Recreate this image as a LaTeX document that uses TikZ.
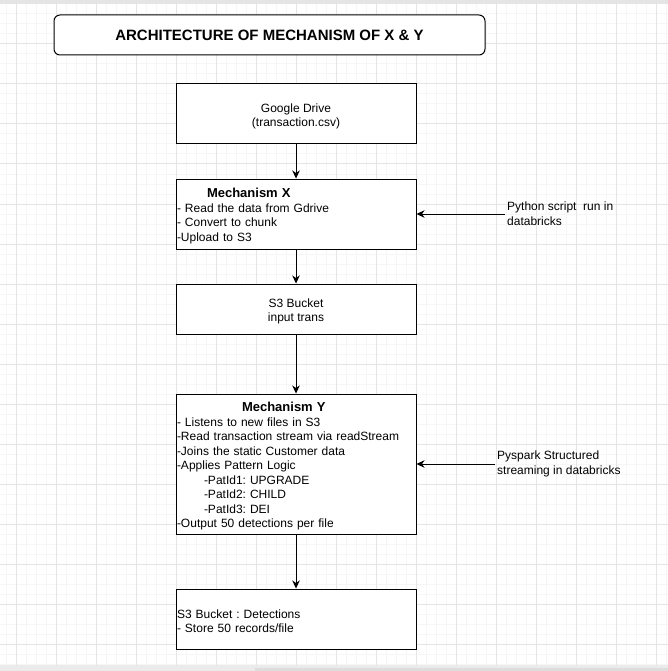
\documentclass[tikz,border=0pt]{standalone}
\usepackage{fontspec}
\setmainfont{Liberation Sans}
\usetikzlibrary{arrows.meta}
\definecolor{gridmajor}{HTML}{E5E5E5}
\definecolor{gridminor}{HTML}{F6F6F6}
\definecolor{barbg}{HTML}{EBEBEB}
\definecolor{barthumb}{HTML}{DDDDDD}
\newcommand{\toprule}{\rule{0pt}{13.5pt}}

\begin{document}
\frenchspacing
\begin{tikzpicture}[x=1pt,y=-1pt,
	box/.style={draw=black, line width=1pt, fill=white, minimum width=240pt, inner sep=1pt, font=\fontsize{12}{14.5}\selectfont},
	flow/.style={line width=1pt, -{Stealth[length=8pt,width=7.5pt,inset=2.5pt]}},
	note/.style={anchor=west, align=left, inner sep=2pt, font=\fontsize{12}{15}\selectfont}]
			\useasboundingbox (0,0) rectangle (668,671);
			\fill[white] (0,0) rectangle (668,671);
			% background grid
			\foreach \x in {6,16,...,666} \draw[gridminor, line width=1pt] (\x,4)--(\x,671);
			\foreach \y in {4,14,...,664} \draw[gridminor, line width=1pt] (0,\y)--(668,\y);
			\foreach \x in {16,56,...,656} \draw[gridmajor, line width=1pt] (\x,4)--(\x,671);
			\foreach \y in {4,44,...,644} \draw[gridmajor, line width=1pt] (0,\y)--(668,\y);
			\fill[gridmajor] (0,0) rectangle (668,3.5);
			\fill[barbg] (0,665) rectangle (668,671);
			\fill[barthumb] (255,667.5) rectangle (668,671);
			% title
			\node[draw, fill=white, rounded corners=6pt, line width=1pt, minimum width=431pt, minimum height=40pt, font=\fontsize{15}{18}\selectfont\bfseries] (title) at (269.5,35) {ARCHITECTURE OF MECHANISM OF X \& Y};
			% flow boxes
			\node[box, minimum height=60pt, align=center] (gdrive) at (296,114) {\toprule Google Drive\\(transaction.csv)};
			\node[box, minimum height=70pt, text width=238pt, align=left] (mechx) at (296,214) {\toprule\hspace*{30pt}{\fontsize{13}{14}\selectfont\bfseries Mechanism X}\\- Read the data from Gdrive\\- Convert to chunk\\-Upload to S3};
			\node[box, minimum height=50pt, align=center] (s3in) at (296,309) {\toprule S3 Bucket\\input trans};
			\node[box, minimum height=140pt, text width=238pt, align=left] (mechy) at (296,464) {\toprule\hspace*{65pt}{\fontsize{13}{14}\selectfont\bfseries Mechanism Y}\\- Listens to new files in S3\\-Read transaction stream via readStream\\-Joins the static Customer data\\-Applies Pattern Logic\\\hspace*{27pt}-PatId1: UPGRADE\\\hspace*{27pt}-PatId2: CHILD\\\hspace*{27pt}-PatId3: DEI\\-Output 50 detections per file};
			\node[box, minimum height=60pt, text width=238pt, align=left] (s3det) at (296,619) {\toprule S3 Bucket : Detections\\- Store 50 records/file};
			% side notes
			\node[note] (pyscript) at (505,214) {Python script\ \ run in\\databricks};
			\node[note] (pyspark) at (495,464) {Pyspark Structured\\streaming in databricks};
			\draw[flow] (gdrive)--(mechx);
			\draw[flow] (mechx)--(s3in);
			\draw[flow] (s3in)--(mechy);
			\draw[flow] (mechy)--(s3det);
			\draw[flow] (pyscript)--(mechx);
			\draw[flow] (pyspark)--(mechy);
		\end{tikzpicture}
\end{document}
